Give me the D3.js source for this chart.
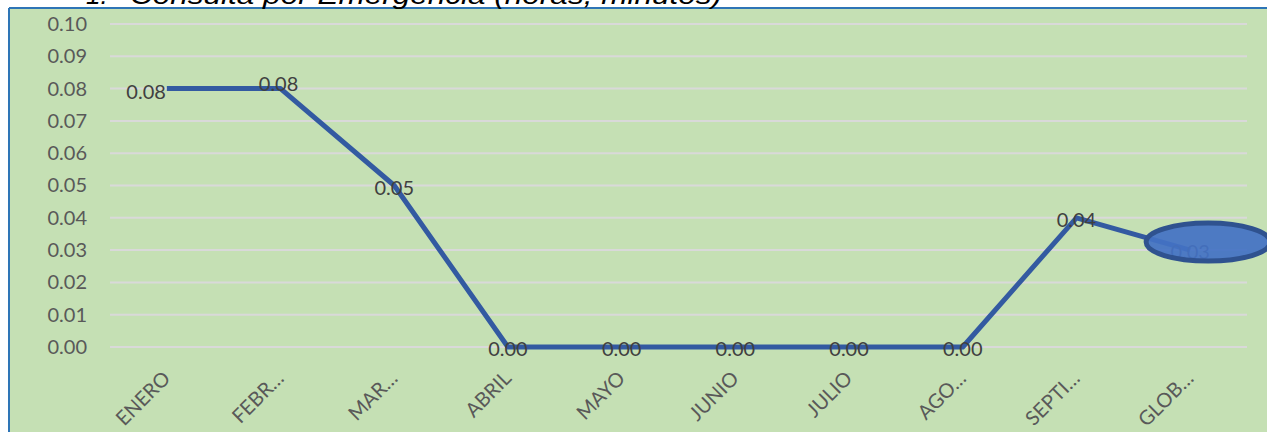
<!DOCTYPE html>
<html>
<head>
<meta charset="utf-8">
<script src="https://cdn.jsdelivr.net/npm/d3@7"></script>
<style>
html,body{margin:0;padding:0;background:#fff;}
svg{display:block;}
</style>
</head>
<body>
<svg id="chart" width="1267" height="432"></svg>
<script>
const categories = ["ENERO","FEBR…","MAR…","ABRIL","MAYO","JUNIO","JULIO","AGO…","SEPTI…","GLOB…"];
const values = [0.08,0.08,0.05,0.00,0.00,0.00,0.00,0.00,0.04,0.03];
const labels = ["0.08","0.08","0.05","0.00","0.00","0.00","0.00","0.00","0.04","0.03"];
const yTicks = [0,0.01,0.02,0.03,0.04,0.05,0.06,0.07,0.08,0.09,0.10];
const title = "Consulta por Emergencia (horas, minutos)";

const svg = d3.select("#chart");
const W = 1267, H = 432;
const font = "Lato, 'Open Sans', sans-serif";

// chart area background + border
svg.append("rect").attr("x",9).attr("y",8).attr("width",W-9).attr("height",H-8).attr("fill","#C5E0B4");
svg.append("line").attr("x1",9).attr("x2",W).attr("y1",8).attr("y2",8).attr("stroke","#2E75B6").attr("stroke-width",2);
svg.append("line").attr("x1",9).attr("x2",9).attr("y1",8).attr("y2",H).attr("stroke","#2E75B6").attr("stroke-width",2);

// title (cut off at the top, as in the reference)
svg.append("text").attr("x",86).attr("y",4).attr("font-family","'Liberation Sans', Arial, sans-serif")
  .attr("font-style","italic").attr("font-size",26).attr("fill","#000").text("1.");
svg.append("text").attr("x",130).attr("y",4).attr("font-family","'Liberation Sans', Arial, sans-serif")
  .attr("font-style","italic").attr("font-size",26).attr("fill","#000")
  .attr("textLength",592).attr("lengthAdjust","spacingAndGlyphs").text(title);

const x = d3.scalePoint().domain(categories).range([110,1247]).padding(0.5);
const y = d3.scaleLinear().domain([0,0.1]).range([347,24]);

// gridlines
svg.append("g").selectAll("line").data(yTicks).join("line")
  .attr("x1",110).attr("x2",1247)
  .attr("y1",d=>y(d)).attr("y2",d=>y(d))
  .attr("stroke","#D9D9D9").attr("stroke-width",2);

// y axis labels
const yAxis = d3.axisLeft(y).tickValues(yTicks).tickFormat(d3.format(".2f")).tickSize(0).tickPadding(0);
const gy = svg.append("g").attr("transform","translate(87,0)").call(yAxis);
gy.select(".domain").remove();
gy.selectAll("text").attr("font-family",font).attr("font-size",20).attr("fill","#595959");

// x axis labels
const xAxis = d3.axisBottom(x).tickSize(0).tickPadding(0);
const gx = svg.append("g").call(xAxis);
gx.select(".domain").remove();
gx.selectAll(".tick").attr("transform",null);
gx.selectAll(".tick text")
  .attr("font-family",font).attr("font-size",20).attr("fill","#595959")
  .attr("text-anchor","end").attr("y",null).attr("dy","0.75em")
  .attr("transform",d=>`translate(${x(d)-6},${369}) rotate(-45)`);

// line
const data = categories.map((c,i)=>({c, v:values[i], l:labels[i]}));
svg.append("path").datum(data)
  .attr("fill","none").attr("stroke","#335AA1").attr("stroke-width",5)
  .attr("stroke-linejoin","round")
  .attr("d",d3.line().x(d=>x(d.c)).y(d=>y(d.v)));

// data labels
svg.append("g").selectAll("text").data(data).join("text")
  .attr("x",(d,i)=> i===0 ? x(d.c)-1 : x(d.c)+ (i===1?-2:0))
  .attr("y",(d,i)=> y(d.v) + (i===0?3:(i===1?-5:2)))
  .attr("dy","0.35em")
  .attr("text-anchor",(d,i)=> i===0 ? "end" : "middle")
  .attr("font-family",font).attr("font-size",20).attr("fill","#404040")
  .text(d=>d.l);

// highlight ellipse over last point
const last = data[data.length-1];
svg.append("ellipse").attr("cx",x(last.c)+18).attr("cy",y(last.v)-8)
  .attr("rx",62).attr("ry",19)
  .attr("fill","#4472C4").attr("fill-opacity",0.93)
  .attr("stroke","#2F528F").attr("stroke-width",5);
</script>
</body>
</html>
